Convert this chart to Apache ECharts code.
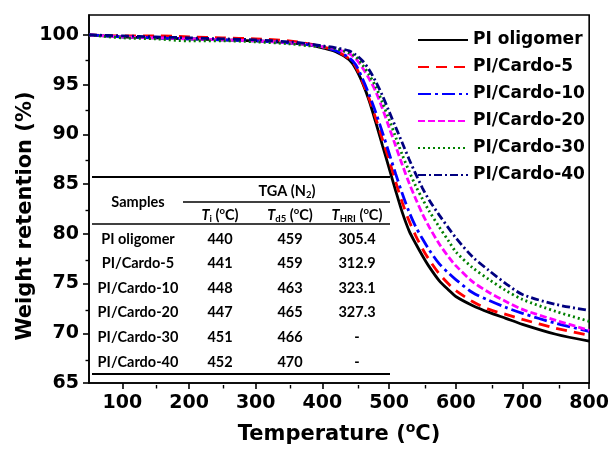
<!DOCTYPE html>
<html><head><meta charset="utf-8">
<script src="https://cdn.jsdelivr.net/npm/echarts@6/dist/echarts.min.js"></script>
<style>html,body{margin:0;padding:0;background:#fff}#c{width:612px;height:450px}</style>
</head><body><div id="c"></div>
<script>
// ---- data ----
const temps = [50,100,150,200,250,300,350,380,400,420,440,450,460,470,480,490,500,510,520,530,540,550,560,575,590,600,625,650,675,700,750,800];
const piOligomer = [100,99.8,99.7,99.6,99.5,99.4,99.2,99.0,98.7,98.3,97.5,96.6,95.2,93.4,91.2,88.9,86.6,84.3,82.1,80.3,79.0,77.8,76.7,75.3,74.3,73.7,72.8,72.1,71.5,70.9,69.9,69.2];
const cardo5 = [100,99.9,99.9,99.8,99.7,99.6,99.4,99.1,98.8,98.4,97.6,96.8,95.3,93.6,91.6,89.5,87.4,85.2,83.1,81.3,79.8,78.5,77.4,76.0,74.9,74.3,73.2,72.4,71.9,71.4,70.5,69.8];
const cardo10 = [100,99.8,99.7,99.6,99.5,99.4,99.2,99.0,98.8,98.4,97.7,97.0,95.6,94.0,92.2,90.2,88.1,86.0,84.0,82.2,80.7,79.5,78.4,77.0,76.0,75.4,74.1,73.3,72.6,72.0,71.0,70.2];
const cardo20 = [100,99.8,99.7,99.6,99.5,99.4,99.2,99.0,98.8,98.6,98.1,97.6,96.7,95.6,94.3,92.6,90.7,88.8,86.9,85.1,83.5,82.0,80.7,79.0,77.6,76.8,75.2,74.1,73.2,72.4,71.3,70.3];
const cardo30 = [100,99.7,99.6,99.4,99.4,99.3,99.1,98.9,98.8,98.6,98.2,97.8,97.0,96.0,94.8,93.2,91.5,89.7,87.9,86.3,84.8,83.5,82.3,80.7,79.2,78.2,76.6,75.4,74.3,73.4,72.2,71.2];
const cardo40 = [100,99.9,99.8,99.7,99.6,99.5,99.3,99.1,98.9,98.7,98.4,98.0,97.4,96.5,95.3,93.9,92.3,90.7,89.1,87.5,86.0,84.6,83.4,81.9,80.5,79.6,77.7,76.3,75.0,73.9,72.9,72.3];
const seriesNames = ['PI oligomer','PI/Cardo-5','PI/Cardo-10','PI/Cardo-20','PI/Cardo-30','PI/Cardo-40'];
const xMajorTicks = [100,200,300,400,500,600,700,800];
const xMinorTicks = [150,250,350,450,550,650,750];
const yMajorTicks = [65,70,75,80,85,90,95,100];
const yMinorTicks = [67.5,72.5,77.5,82.5,87.5,92.5,97.5];
// table
const tableSamples = ['PI oligomer','PI/Cardo-5','PI/Cardo-10','PI/Cardo-20','PI/Cardo-30','PI/Cardo-40'];
const tableTi = ['440','441','448','447','451','452'];
const tableTd5 = ['459','459','463','465','466','470'];
const tableTHRI = ['305.4','312.9','323.1','327.3','-','-'];

// ---- styles ----
const colors = ['#000000','#ff0000','#0000ff','#ff00ff','#008000','#000080'];
const dashes = ['solid',[11,7],[13,4,3,4],[7,3],[2,3],[8,3,2,3]];
const values = [piOligomer,cardo5,cardo10,cardo20,cardo30,cardo40];
const F = 'DejaVu Sans';

const series = values.map((arr,i)=>({
  name: seriesNames[i], type:'line', xAxisIndex:0, yAxisIndex:0,
  data: temps.map((t,j)=>[t,arr[j]]),
  showSymbol:false, symbol:'none', smooth:0.3,
  lineStyle:{color:colors[i], width:2.8, type:dashes[i]},
  itemStyle:{color:colors[i]},
  z: 2+i
}));

// table graphics
const TF = 'Lato';
const colX = [138,220,290,357];
const rowY = [239,263,288,312,337,362];
const g = [];
function line(x1,x2,y,w){ g.push({type:'line', shape:{x1:x1,y1:y,x2:x2,y2:y}, style:{stroke:'#000', lineWidth:w}, z:10}); }
function txt(x,y,t,rich){ g.push({type:'text', x:x, y:y, z:10, style:{text:t, fill:'#000', font:'bold 14.5px '+TF, align:'center', verticalAlign:'middle', textAlign:'center', textVerticalAlign:'middle', rich:rich||undefined}}); }
line(92,390,177,1.8);
line(183,390,202,1.3);
line(92,390,224,1.3);
line(92,390,374,1.8);
const rich = {
  n:{fontFamily:TF, fontWeight:'bold', fontSize:14.5, color:'#000'},
  it:{fontFamily:TF, fontWeight:'bold', fontStyle:'italic', fontSize:14.5, color:'#000'},
  sub:{fontFamily:TF, fontWeight:'bold', fontSize:9.5, color:'#000', padding:[8,0,0,0]},
  sup:{fontFamily:TF, fontWeight:'bold', fontSize:9.5, color:'#000', padding:[0,0,8,0]}
};
txt(colX[0],202,'Samples');
txt(287,191,'{n|TGA (N}{sub|2}{n|)}',rich);
txt(colX[1],215,'{it|T}{sub|i}{n| (}{sup|o}{n|C)}',rich);
txt(colX[2],215,'{it|T}{sub|d5}{n| (}{sup|o}{n|C)}',rich);
txt(colX[3],215,'{it|T}{sub|HRI}{n| (}{sup|o}{n|C)}',rich);
tableSamples.forEach((s,i)=>{
  txt(colX[0],rowY[i],s);
  txt(colX[1],rowY[i],tableTi[i]);
  txt(colX[2],rowY[i],tableTd5[i]);
  txt(colX[3],rowY[i],tableTHRI[i]);
});

const labelStyle = {fontFamily:F, fontWeight:'bold', fontSize:19, color:'#000'};
const chart = echarts.init(document.getElementById('c'), null, {renderer:'canvas'});
chart.setOption({
  animation:false,
  backgroundColor:'#ffffff',
  grid:[
    {left:89, right:19, top:15, bottom:65, show:true, borderColor:'#000', borderWidth:1.6, backgroundColor:'transparent'},
    {left:89, right:19, top:15, bottom:65, show:false}
  ],
  legend:{
    data:seriesNames, orient:'vertical', left:412, top:26,
    itemWidth:50, itemHeight:14, itemGap:9,
    itemStyle:{opacity:0, borderWidth:0},
    textStyle:{fontFamily:F, fontWeight:'bold', fontSize:17, color:'#000', lineHeight:18}
  },
  xAxis:[
    {type:'value', gridIndex:0, min:50, max:800, interval:50,
     axisLine:{show:true, lineStyle:{color:'#000', width:1.6}},
     axisTick:{show:true, inside:false, length:6, customValues:xMajorTicks, lineStyle:{color:'#000', width:1.6}},
     axisLabel:Object.assign({customValues:xMajorTicks, margin:11}, labelStyle),
     splitLine:{show:false},
     name:'Temperature ({sup|o}C)', nameLocation:'middle', nameGap:38,
     nameTextStyle:{fontFamily:F, fontWeight:'bold', fontSize:21, color:'#000',
       rich:{sup:{fontFamily:F, fontWeight:'bold', fontSize:14, color:'#000', padding:[0,0,13,0]}}}
    },
    {type:'value', gridIndex:1, min:50, max:800, interval:50,
     axisLine:{show:false}, axisLabel:{show:false}, splitLine:{show:false},
     axisTick:{show:true, length:3.5, customValues:xMinorTicks, lineStyle:{color:'#000', width:1.4}}
    }
  ],
  yAxis:[
    {type:'value', gridIndex:0, min:65, max:102, interval:5,
     axisLine:{show:true, lineStyle:{color:'#000', width:1.6}},
     axisTick:{show:true, inside:false, length:6, customValues:yMajorTicks, lineStyle:{color:'#000', width:1.6}},
     axisLabel:Object.assign({customValues:yMajorTicks, margin:10}, labelStyle),
     splitLine:{show:false},
     name:'Weight retention (%)', nameLocation:'middle', nameGap:53, nameRotate:90, nameMoveOverlap:false,
     nameTextStyle:{fontFamily:F, fontWeight:'bold', fontSize:21, color:'#000', padding:[0,34,0,0]}
    },
    {type:'value', gridIndex:1, min:65, max:102, interval:5,
     axisLine:{show:false}, axisLabel:{show:false}, splitLine:{show:false},
     axisTick:{show:true, length:3.5, customValues:yMinorTicks, lineStyle:{color:'#000', width:1.4}}
    }
  ],
  series: series,
  graphic: g
});
</script>
</body></html>
